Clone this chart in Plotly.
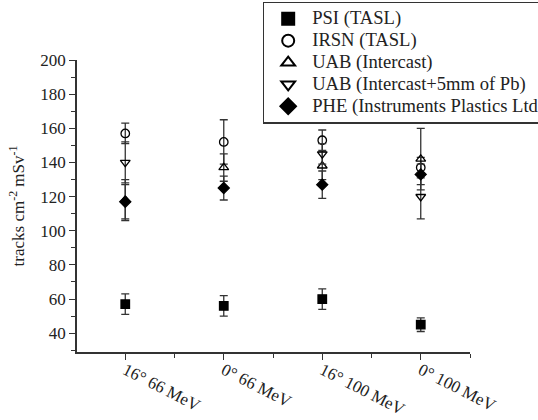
import plotly.graph_objects as go

categories = ["16° 66 MeV", "0° 66 MeV", "16° 100 MeV", "0° 100 MeV"]
x_pos = [0, 1, 2, 3]

psi = [57, 56, 60, 45]
psi_err = [6, 6, 6, 4]
irsn = [157, 152, 153, 137]
irsn_err = [6, 13, 6, 6]
uab = [118, 137, 138, 142]
uab_err = [12, 8, 8, 18]
uab_pb = [140, None, 145, 120]
uab_pb_err = [12, 0, 6, 13]
phe = [117, 125, 127, 133]
phe_err = [10, 7, 8, 6]

series = [
    ("PSI (TASL)", psi, psi_err, "square", "black"),
    ("IRSN (TASL)", irsn, irsn_err, "circle-open", "black"),
    ("UAB (Intercast)", uab, uab_err, "triangle-up-open", "black"),
    ("UAB (Intercast+5mm of Pb)", uab_pb, uab_pb_err, "triangle-down-open", "black"),
    ("PHE (Instruments Plastics Ltd)", phe, phe_err, "diamond", "black"),
]

fig = go.Figure()
for name, vals, errs, sym, col in series:
    fig.add_trace(go.Scatter(
        x=x_pos, y=vals, mode="markers",
        name='<span style="font-family:Liberation Serif,serif;font-size:18.6px">' + name + "</span>",
        marker=dict(symbol=sym, size=8.5, color=col, line=dict(color=col, width=1.3)),
        error_y=dict(type="data", array=errs, visible=True, color="#333333",
                     thickness=1.3, width=4),
    ))

font_family = "Liberation Serif, Times New Roman, serif"
fig.update_layout(
    width=538, height=420,
    margin=dict(l=77, r=68, t=60, b=68, autoexpand=False),
    plot_bgcolor="white", paper_bgcolor="white",
    font=dict(family=font_family, size=17, color="#222222"),
    showlegend=True,
    legend=dict(x=0.473, y=1.2, xanchor="left", yanchor="top",
                bgcolor="white", bordercolor="#333333", borderwidth=1.3,
                font=dict(family=font_family, size=14.5, color="#222222"),
                tracegroupgap=0, itemsizing="constant", itemwidth=38),
    xaxis=dict(
        range=[-0.49, 3.5], tickmode="array", tickvals=x_pos, ticktext=categories,
        tickangle=27, showgrid=False, zeroline=False, showline=True,
        linecolor="#333333", linewidth=1.5, ticks="outside", ticklen=6,
        tickwidth=1.3, tickcolor="#333333", ticklabelstandoff=-6,
        minor=dict(tickmode="array", tickvals=[0.5, 1.5, 2.5, 3.5], ticks="outside",
                   ticklen=4, tickwidth=1.3, tickcolor="#333333"),
        tickfont=dict(family=font_family, size=17),
    ),
    yaxis=dict(
        range=[29, 200], tickmode="array", tickvals=[40, 60, 80, 100, 120, 140, 160, 180, 200],
        showgrid=False, zeroline=False, showline=True,
        linecolor="#333333", linewidth=1.5, ticks="outside", ticklen=6,
        tickwidth=1.3, tickcolor="#333333",
        minor=dict(tickmode="array", tickvals=[30, 50, 70, 90, 110, 130, 150, 170, 190],
                   ticks="outside", ticklen=4, tickwidth=1.3, tickcolor="#333333"),
        title=dict(text="tracks cm<sup>-2</sup> mSv<sup>-1</sup>", standoff=11,
                   font=dict(family=font_family, size=17)),
        tickfont=dict(family=font_family, size=17),
    ),
)

fig.write_html(
    "out.html",
    config={"displayModeBar": False},
    post_script="document.body.style.margin='0';document.body.style.padding='0';document.body.style.overflow='hidden';",
)
